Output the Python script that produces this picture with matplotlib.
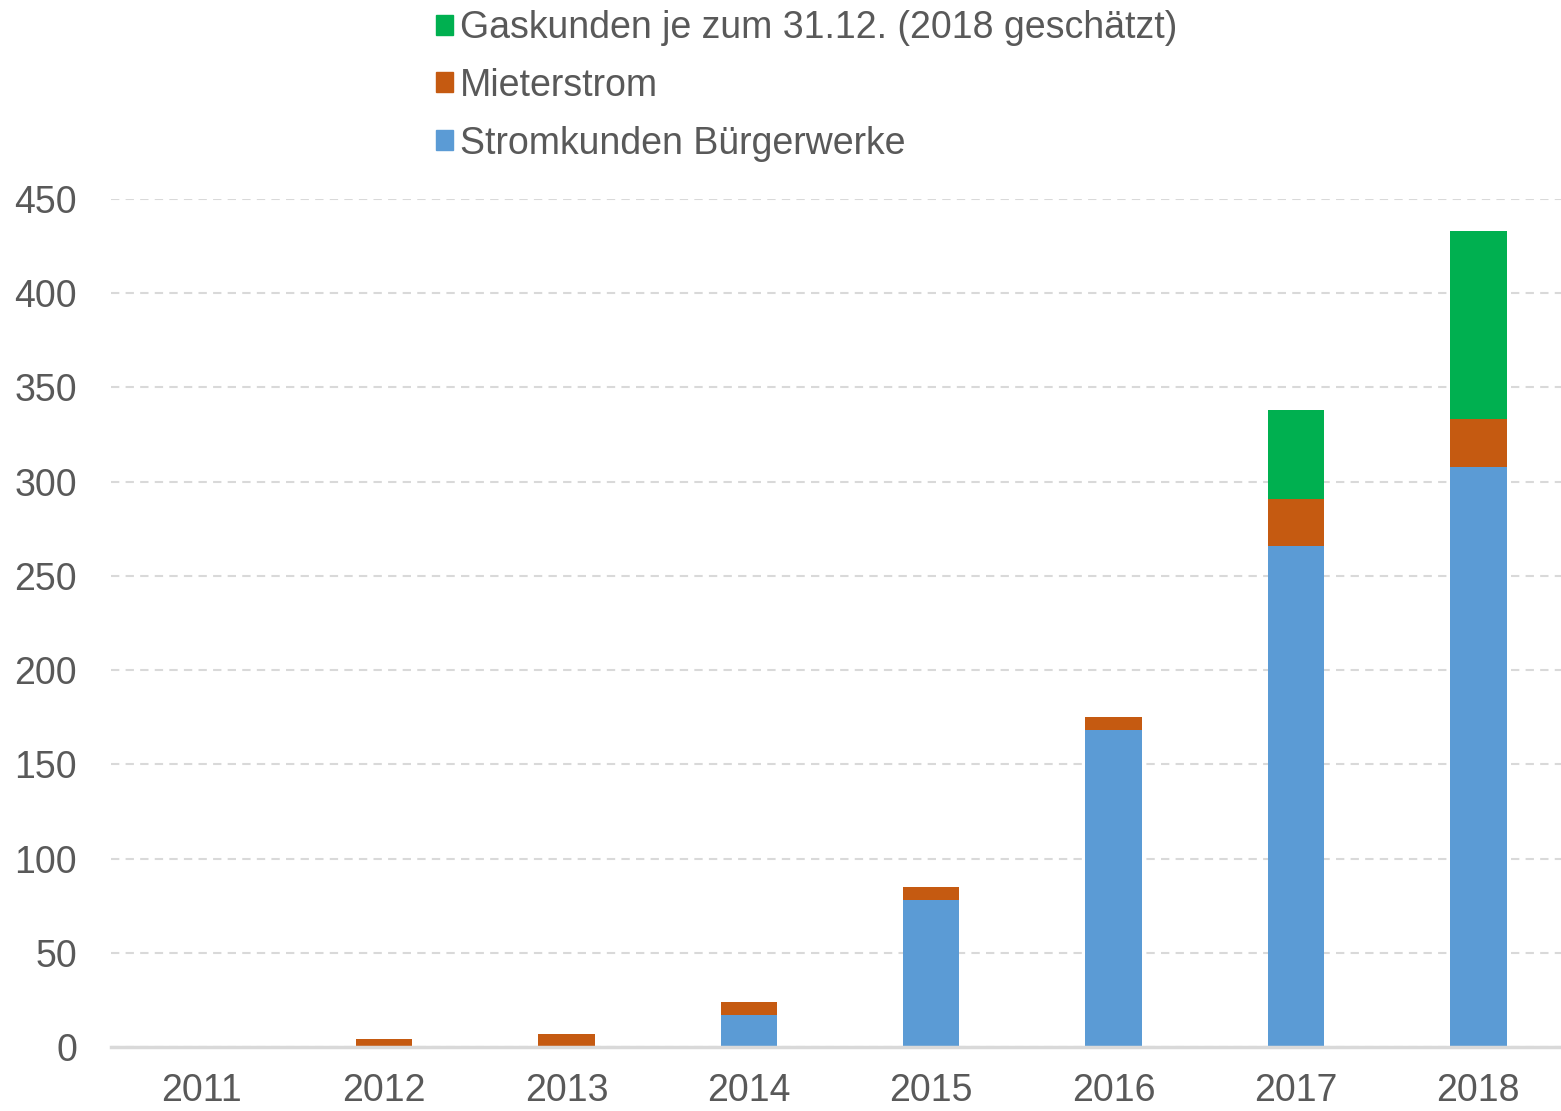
import matplotlib.pyplot as plt
import numpy as np
from matplotlib.patches import Patch

plt.rcParams['font.family'] = ['Liberation Sans', 'DejaVu Sans']

years = ['2011', '2012', '2013', '2014', '2015', '2016', '2017', '2018']
strom = [0, 0, 0, 17, 78, 168, 266, 308]
mieter = [0, 4.5, 7, 7, 7, 7, 25, 25]
gas = [0, 0, 0, 0, 0, 0, 47, 100]

c_strom = '#5b9bd5'
c_mieter = '#c55a11'
c_gas = '#00b050'
txt = '#595959'

fig = plt.figure(figsize=(15.61, 11.11), dpi=100)
ax = fig.add_axes([110.5 / 1561, 1 - 1047 / 1111, 1459 / 1561, (1047 - 199) / 1111])

x = np.arange(len(years))
w = 0.31
strom = np.array(strom)
mieter = np.array(mieter)
gas = np.array(gas)
ax.bar(x, strom, w, color=c_strom, zorder=3)
ax.bar(x, mieter, w, bottom=strom, color=c_mieter, zorder=3)
ax.bar(x, gas, w, bottom=strom + mieter, color=c_gas, zorder=3)

ax.set_xlim(-0.5, 7.5)
ax.set_ylim(0, 450)
ax.set_yticks(np.arange(0, 451, 50))
ax.set_xticks(x)
ax.set_xticklabels(years)
ax.tick_params(axis='both', length=0, labelsize=27, labelcolor=txt)
ax.tick_params(axis='y', pad=24)
ax.tick_params(axis='x', pad=19)

ax.yaxis.grid(True, color='#d9d9d9', linestyle=(0, (4, 3)), linewidth=1.5, zorder=0)
for s in ['top', 'right', 'left']:
    ax.spines[s].set_visible(False)
ax.spines['bottom'].set_color('#d9d9d9')
ax.spines['bottom'].set_linewidth(2.5)
ax.spines['bottom'].set_zorder(4)

handles = [Patch(color=c_gas), Patch(color=c_mieter), Patch(color=c_strom)]
labels = ['Gaskunden je zum 31.12. (2018 geschätzt)', 'Mieterstrom', 'Stromkunden Bürgerwerke']
fig.legend(handles, labels, loc='upper left', bbox_to_anchor=(436 / 1561, 1 - 10 / 1111),
           frameon=False, fontsize=27, labelcolor=txt, handlelength=0.45, handleheight=0.45,
           handletextpad=0.2, labelspacing=0.58, borderaxespad=0, borderpad=0)

fig.savefig('out.png', dpi=100)
